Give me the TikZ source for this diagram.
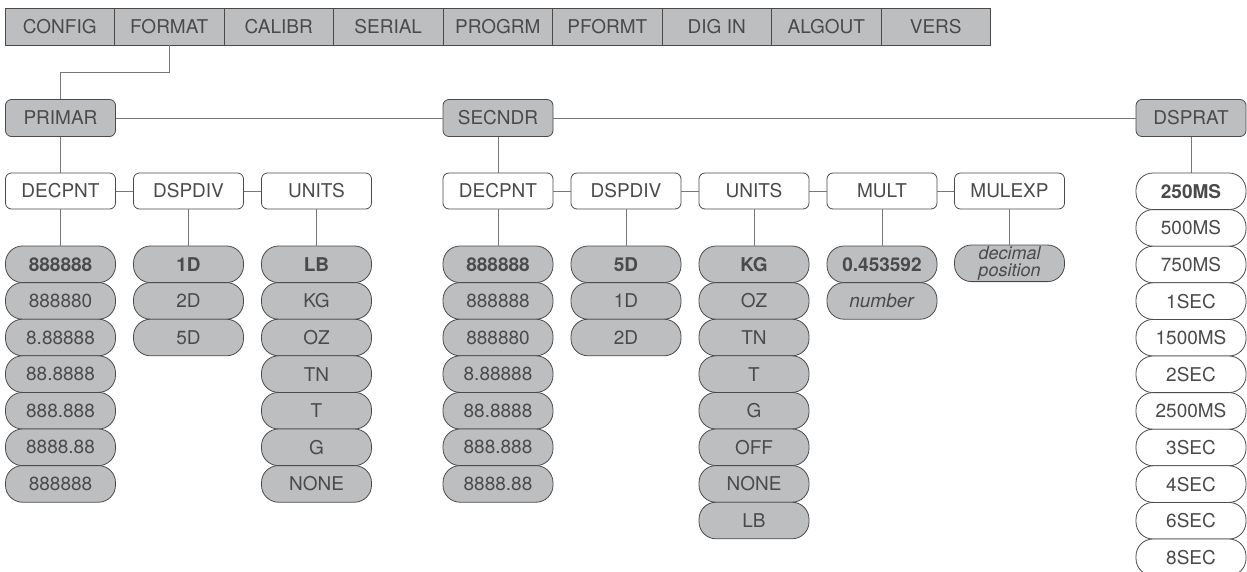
\documentclass[tikz,border=0pt]{standalone}
\usepackage{fontspec}
\setmainfont{TeX Gyre Heros}
\definecolor{grayf}{HTML}{BDBEC0}
\definecolor{linec}{HTML}{4A4A4A}
\definecolor{connc}{HTML}{777777}
\definecolor{txtc}{HTML}{4A4A4C}
\newcommand\pillcol[5]{%
  \foreach \t [count=\k from 0] in {#4} {\node[#5] (#1\k) at (#2,{#3+36.6*\k}) {\t};}}
\begin{document}
\begin{tikzpicture}[x=1pt,y=-1pt,
  every node/.style={font=\fontsize{19}{21}\selectfont, text=txtc, inner sep=0pt},
  menu/.style={draw=linec, fill=grayf, line width=0.8pt, minimum width=109.5pt, minimum height=37pt},
  hdr/.style={draw=linec, fill=grayf, line width=0.8pt, rounded corners=6pt, minimum width=110pt, minimum height=37pt},
  sub/.style={draw=linec, fill=white, line width=0.8pt, rounded corners=6pt, minimum width=110pt, minimum height=36pt},
  pill/.style={draw=linec, fill=grayf, line width=0.8pt, rounded corners=17pt, minimum width=110pt, minimum height=36.6pt},
  wpill/.style={pill, fill=white},
  conn/.style={draw=connc, line width=0.9pt}]
\useasboundingbox (0,0) rectangle (1247,571);
\clip (0,0) rectangle (1247,571);
% top menu
\node[menu] (config) at (59.75,26.5) {CONFIG};
\node[menu] (format) at (169.25,26.5) {FORMAT};
\node[menu] (calibr) at (278.75,26.5) {CALIBR};
\node[menu] (serial) at (388.25,26.5) {SERIAL};
\node[menu] (progrm) at (497.75,26.5) {PROGRM};
\node[menu] (pformt) at (607.25,26.5) {PFORMT};
\node[menu] (digin) at (716.75,26.5) {DIG IN};
\node[menu] (algout) at (826.25,26.5) {ALGOUT};
\node[menu] (vers) at (935.75,26.5) {VERS};
% level 1
\node[hdr] (primar) at (60.5,118) {PRIMAR};
\node[hdr] (secndr) at (498,118) {SECNDR};
\node[hdr] (dsprat) at (1191,118) {DSPRAT};
\coordinate (bend) at (0,72);
\draw[conn] (format.south) -- (format.south |- bend) -| (primar.north);
\draw[conn] (primar) -- (secndr) -- (dsprat);
% level 2
\node[sub] (pdec) at (60.5,191) {DECPNT};
\node[sub] (pdsp) at (188.5,191) {DSPDIV};
\node[sub] (punit) at (316.5,191) {UNITS};
\node[sub] (sdec) at (498,191) {DECPNT};
\node[sub] (sdsp) at (626,191) {DSPDIV};
\node[sub] (sunit) at (754,191) {UNITS};
\node[sub] (smult) at (882,191) {MULT};
\node[sub] (smexp) at (1009.5,191) {MULEXP};
% pills
\pillcol{pd}{60.5}{264.3}{\textbf{888888},888880,8.88888,88.8888,888.888,8888.88,888888}{pill}
\pillcol{pv}{188.5}{264.3}{\textbf{1D},2D,5D}{pill}
\pillcol{pu}{316.5}{264.3}{\textbf{LB},KG,OZ,TN,T,G,NONE}{pill}
\pillcol{sd}{498}{264.3}{\textbf{888888},888888,888880,8.88888,88.8888,888.888,8888.88}{pill}
\pillcol{sv}{626}{264.3}{\textbf{5D},1D,2D}{pill}
\pillcol{su}{754}{264.3}{\textbf{KG},OZ,TN,T,G,OFF,NONE,LB}{pill}
\pillcol{sm}{882}{264.3}{\textbf{0.453592},\textit{number}}{pill}
\node[pill, align=center, font=\fontsize{18}{16.5}\selectfont\itshape] (se0) at (1009.5,263.3) {decimal\\position};
\pillcol{dr}{1191}{191.3}{\textbf{250MS},500MS,750MS,1SEC,1500MS,2SEC,2500MS,3SEC,4SEC,6SEC,8SEC}{wpill}
% connectors
\draw[conn] (primar) -- (pdec);
\draw[conn] (secndr) -- (sdec);
\draw[conn] (pdec) -- (pdsp) -- (punit);
\draw[conn] (sdec) -- (sdsp) -- (sunit) -- (smult) -- (smexp);
\draw[conn] (pdec) -- (pd0);
\draw[conn] (pdsp) -- (pv0);
\draw[conn] (punit) -- (pu0);
\draw[conn] (sdec) -- (sd0);
\draw[conn] (sdsp) -- (sv0);
\draw[conn] (sunit) -- (su0);
\draw[conn] (smult) -- (sm0);
\draw[conn] (smexp) -- (se0);
\draw[conn] (dsprat) -- (dr0);
\end{tikzpicture}
\end{document}
